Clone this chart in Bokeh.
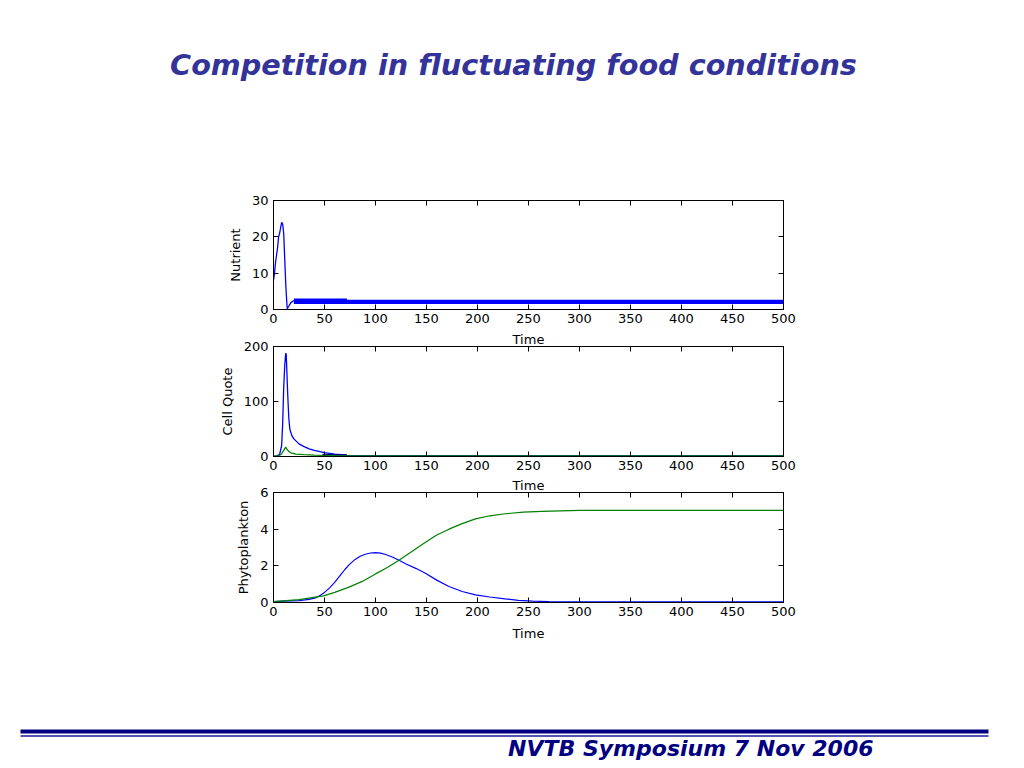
from bokeh.plotting import figure
from bokeh.models import Range1d, LinearAxis, FixedTicker, Label, CustomLabelingPolicy
from bokeh.layouts import column, row
from bokeh.embed import file_html
from bokeh.resources import INLINE

# ---------------- data ----------------
title_text = "Competition in fluctuating food conditions"
footer_text = "NVTB Symposium 7 Nov 2006"
x_ticks = [0, 50, 100, 150, 200, 250, 300, 350, 400, 450, 500]

# Nutrient (top panel)
nut_t = [0, 1, 2, 3, 4, 5, 6, 7, 8, 9, 10, 11, 12, 13, 13.5, 15, 17, 20]
nut_v = [8, 10, 13, 15, 17, 20, 21, 22.5, 24, 23.5, 21, 14, 7, 2, 0.2, 0.9, 1.9, 2.5]
nut_band_t = [20, 72, 72, 500]
nut_band_lo = [1.5, 1.5, 1.5, 1.5]
nut_band_hi = [3.0, 3.0, 2.7, 2.7]

# Cell quote (middle panel)
cq_t = [0, 3, 6, 8, 9, 10, 11, 12, 12.5, 13, 14, 15, 16, 18, 20, 25, 30, 35, 40, 50, 60, 70, 72, 80, 100, 500]
cq_blue = [0, 1, 4, 20, 60, 125, 165, 188, 185, 160, 110, 70, 50, 38, 32, 23, 18, 14, 11, 7, 4.5, 3, 2, 1.5, 1.5, 1.5]
cq_band_t = [48, 72]
cq_band_lo = [1, 1]
cq_band_hi = [5, 4]
cq_gt = [0, 5, 8, 10, 12, 13, 15, 18, 22, 30, 40, 60, 100, 500]
cq_green = [0, 1, 5, 11, 17, 14, 9, 6, 4.5, 3.5, 2.5, 1.5, 1, 1]

# Phytoplankton (bottom panel)
ph_t = [0, 10, 25, 35, 41, 46, 50, 55, 60, 65, 70, 74, 80, 85, 90, 95, 100, 105, 110, 117, 123,
        130, 140, 149, 160, 172, 185, 198, 212, 227, 240, 254, 270, 300, 500]
ph_blue = [0.05, 0.07, 0.1, 0.17, 0.25, 0.4, 0.55, 0.8, 1.1, 1.45, 1.8, 2.05, 2.35, 2.52, 2.63, 2.7,
           2.72, 2.69, 2.62, 2.47, 2.3, 2.1, 1.85, 1.6, 1.22, 0.87, 0.6, 0.42, 0.3, 0.2, 0.12, 0.07,
           0.05, 0.04, 0.04]
ph_gt = [0, 25, 49, 60, 74, 87, 100, 112, 123, 136, 149, 160, 172, 185, 198, 212, 227, 245, 263, 300, 500]
ph_green = [0.05, 0.16, 0.36, 0.55, 0.84, 1.15, 1.56, 1.92, 2.3, 2.8, 3.29, 3.68, 4.0, 4.3, 4.56, 4.73,
            4.84, 4.93, 4.97, 5.02, 5.02]

# ---------------- style ----------------
W = 1016
FONT = "DejaVu Sans"
FS = "13px"
BLUE = "#0000ff"
GREEN = "#008000"
NAVY = "#000080"
TITLE_COLOR = "#333399"

HIDE_LABELS = CustomLabelingPolicy(code="""
    for (const i of Array.from(indices)) {
        if (indices.unset) indices.unset(i); else indices.set(i, false)
    }
    return indices
""")


def panel(height, top, bottom, y_end, y_ticks, ylabel, xlabel=None, toplabel=None):
    p = figure(width=W, height=height, output_backend="svg", toolbar_location=None,
               x_range=Range1d(0, 500), y_range=Range1d(0, y_end),
               min_border_left=273, min_border_right=233,
               min_border_top=top, min_border_bottom=bottom)
    p.xgrid.visible = False
    p.ygrid.visible = False
    p.outline_line_color = "black"
    p.outline_line_alpha = 1.0
    p.outline_line_width = 1
    p.background_fill_color = "white"
    p.border_fill_color = "white"
    for ax, ticks in ((p.xaxis[0], x_ticks), (p.yaxis[0], y_ticks)):
        ax.ticker = FixedTicker(ticks=ticks)
        ax.major_tick_in = 5
        ax.major_tick_out = 0
        ax.minor_tick_line_color = None
        ax.axis_line_color = "black"
        ax.major_tick_line_color = "black"
        ax.major_label_text_font = FONT
        ax.major_label_text_font_size = FS
        ax.major_label_text_color = "black"
        ax.major_label_standoff = 5
        ax.axis_label_text_font = FONT
        ax.axis_label_text_font_size = FS
        ax.axis_label_text_font_style = "normal"
        ax.axis_label_text_color = "black"
    p.yaxis[0].axis_label = ylabel
    p.yaxis[0].axis_label_standoff = 6
    p.xaxis[0].major_label_standoff = 4
    if xlabel:
        p.xaxis[0].axis_label = xlabel
        p.xaxis[0].axis_label_standoff = 7
    # mirrored inward ticks on top and right (no tick labels)
    for loc, ticks in (("above", x_ticks), ("right", y_ticks)):
        ax = LinearAxis(ticker=FixedTicker(ticks=ticks), major_tick_in=5, major_tick_out=0,
                        minor_tick_line_color=None, axis_line_color="black",
                        major_label_policy=HIDE_LABELS,
                        major_label_text_font_size="0px", major_label_standoff=0)
        if loc == "above" and toplabel:
            ax.axis_label = toplabel
            ax.axis_label_standoff = 0
            ax.axis_label_text_font = FONT
            ax.axis_label_text_font_size = FS
            ax.axis_label_text_font_style = "normal"
            ax.axis_label_text_color = "black"
        p.add_layout(ax, loc)
    return p


# Title
pt = figure(width=W, height=180, output_backend="svg", toolbar_location=None,
            x_range=Range1d(0, W), y_range=Range1d(180, 0), x_axis_type=None, y_axis_type=None,
            min_border=0)
pt.xgrid.visible = False
pt.ygrid.visible = False
pt.outline_line_color = None
pt.add_layout(Label(x=513, y=64, text=title_text, text_align="center", text_baseline="middle",
                    text_font=FONT, text_font_size="28.7px", text_font_style="bold italic",
                    text_color=TITLE_COLOR))

# Panel 1: Nutrient
p1 = panel(148, 20, 19, 30, [0, 10, 20, 30], "Nutrient")
p1.varea(x=nut_band_t, y1=nut_band_lo, y2=nut_band_hi, fill_color=BLUE)
p1.line(nut_t, nut_v, line_color=BLUE, line_width=1.3)

# Panel 2: Cell Quote
p2 = panel(146, 18, 18, 200, [0, 100, 200], "Cell Quote", toplabel="Time")
p2.line(cq_t, cq_blue, line_color=BLUE, line_width=1.3)
p2.varea(x=cq_band_t, y1=cq_band_lo, y2=cq_band_hi, fill_color="#000090")
p2.line(cq_gt, cq_green, line_color=GREEN, line_width=1.3)

# Panel 3: Phytoplankton
p3 = panel(186, 18, 58, 6, [0, 2, 4, 6], "Phytoplankton", "Time", toplabel="Time")
p3.line(ph_t, ph_blue, line_color=BLUE, line_width=1.2)
p3.line(ph_gt, ph_green, line_color=GREEN, line_width=1.2)

# Footer
pf = figure(width=W, height=100, output_backend="svg", toolbar_location=None,
            x_range=Range1d(0, W), y_range=Range1d(100, 0), x_axis_type=None, y_axis_type=None,
            min_border=0)
pf.xgrid.visible = False
pf.ygrid.visible = False
pf.outline_line_color = None
pf.segment(x0=[20], y0=[71], x1=[988], y1=[71], line_color=NAVY, line_width=4)
pf.segment(x0=[20], y0=[75.5], x1=[988], y1=[75.5], line_color="#1a1a99", line_width=1.5)
pf.add_layout(Label(x=873, y=88, text=footer_text, text_align="right", text_baseline="middle",
                    text_font=FONT, text_font_size="22px", text_font_style="bold italic",
                    text_color=NAVY))

layout = column(row(pt), p1, p2, p3, row(pf), spacing=0)
open("out.html", "w").write(file_html(layout, INLINE))
